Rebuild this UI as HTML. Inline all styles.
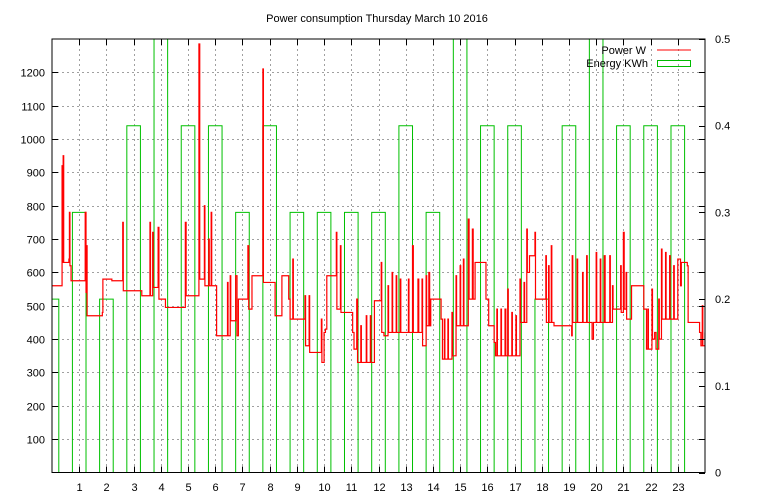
<!DOCTYPE html>
<html><head><meta charset="utf-8"><style>
body{margin:0;background:#fff;}
svg{display:block;font-family:"Liberation Sans",sans-serif;font-size:11px;}
</style></head><body>
<svg id="chart" width="768" height="500" viewBox="0 0 768 500">
<text x="377" y="22" text-anchor="middle">Power consumption Thursday March 10 2016</text>
<g id="grid"></g><g id="energy"></g><g id="power"></g><g id="axes"></g>
<g>
<text x="646" y="54" text-anchor="end">Power W</text>
<line x1="657" y1="50" x2="691" y2="50" stroke="#f00" stroke-width="1"/>
<text x="648" y="67" text-anchor="end">Energy KWh</text>
<rect x="657.5" y="60.5" width="33" height="6" fill="none" stroke="#0b0"/>
</g>
</svg>
<script>
const hourTicks=[1,2,3,4,5,6,7,8,9,10,11,12,13,14,15,16,17,18,19,20,21,22,23];
const wattTicks=[100,200,300,400,500,600,700,800,900,1000,1100,1200];
const kwhTicks=[0,0.1,0.2,0.3,0.4,0.5];
const energyHours=[0,1,2,3,4,5,6,7,8,9,10,11,12,13,14,15,16,17,18,19,20,21,22,23];
const energyKwh=[0.2,0.3,0.2,0.4,0.6,0.4,0.4,0.3,0.4,0.3,0.3,0.3,0.3,0.4,0.3,0.6,0.4,0.4,0.2,0.4,0.6,0.4,0.4,0.4];
const powerT=[0,0.37,0.39,0.41,0.43,0.62,0.64,0.66,0.7,1.22,1.25,1.27,1.29,1.85,1.87,2.2,2.6,2.62,3.3,3.6,3.62,3.7,3.72,3.9,3.93,4.17,4.9,4.93,5.4,5.43,5.6,5.62,5.76,5.78,5.85,5.87,6.05,6.45,6.47,6.55,6.57,6.75,6.8,6.85,7.2,7.23,7.35,7.75,7.77,8.2,8.45,8.7,8.75,8.85,8.87,9.3,9.32,9.45,9.47,9.9,9.92,10.0,10.05,10.1,10.45,10.47,10.6,10.62,11.05,11.1,11.2,11.23,11.35,11.37,11.55,11.57,11.7,11.72,11.85,12.1,12.12,12.2,12.35,12.37,12.5,12.52,12.65,12.67,12.8,12.82,13.1,13.12,13.25,13.28,13.45,13.48,13.6,13.62,13.75,13.77,13.85,13.88,13.92,14.3,14.35,14.42,14.44,14.55,14.57,14.7,14.72,14.85,14.87,15.0,15.02,15.12,15.14,15.3,15.33,15.45,15.48,15.55,15.95,16.05,16.25,16.3,16.35,16.37,16.5,16.52,16.65,16.68,16.75,16.77,16.9,16.92,17.05,17.07,17.2,17.22,17.35,17.37,17.45,17.47,17.55,17.75,17.77,18.15,18.17,18.25,18.27,18.35,18.37,18.45,19.1,19.12,19.14,19.3,19.32,19.5,19.52,19.65,19.67,19.85,19.9,20.0,20.02,20.15,20.17,20.3,20.33,20.5,20.52,20.6,20.62,20.9,20.92,21.0,21.03,21.1,21.12,21.3,21.75,21.85,21.9,21.92,22.05,22.07,22.15,22.2,22.3,22.32,22.4,22.42,22.55,22.57,22.7,22.72,22.85,22.87,23.0,23.1,23.13,23.35,23.38,23.8,23.85,23.9,23.92,24];
const powerW=[560,920,630,950,630,640,780,620,575,780,540,680,470,480,580,575,750,545,530,750,530,720,555,735,520,495,750,530,1285,580,800,560,700,560,780,560,410,570,410,590,455,590,410,520,680,490,590,1210,570,470,590,520,460,640,460,530,380,530,360,460,330,420,430,590,720,490,680,480,420,370,520,330,440,330,470,330,470,330,515,630,420,410,560,420,600,420,590,420,580,420,580,420,680,420,580,420,580,380,590,440,600,440,520,460,340,460,340,460,340,480,350,590,440,620,440,640,440,760,520,730,520,630,520,440,390,350,490,350,490,350,490,350,550,350,480,350,470,350,580,450,570,450,730,600,650,720,520,650,450,620,450,680,450,440,410,650,450,640,450,600,450,650,450,400,450,660,450,640,450,650,450,650,450,560,490,620,480,720,490,600,460,560,490,370,490,370,550,400,420,370,520,400,670,460,660,460,650,460,620,460,640,560,630,620,450,420,380,500,380,420];
const L=52,R=705,T=39,B=472.5;
const xs=t=>L+t*(R-L)/24;
const yw=w=>B-w*(B-T)/1300;
const yk=k=>B-k*(B-T)/0.5;
const NS='http://www.w3.org/2000/svg';
function mk(tag,attrs,parent){const e=document.createElementNS(NS,tag);for(const k in attrs)e.setAttribute(k,attrs[k]);parent.appendChild(e);return e;}
const grid=document.getElementById('grid'),axes=document.getElementById('axes'),eg=document.getElementById('energy'),pg=document.getElementById('power');
hourTicks.forEach(h=>{const x=Math.round(xs(h))+0.5;
 const g=mk('line',{x1:x,y1:T,x2:x,y2:B,stroke:'#a0a0a0','stroke-dasharray':'2,3'},grid);
 
 const tk=mk('path',{d:`M${x},${B} v-6 M${x},${T} v6`,stroke:'#000'},axes);
 
 const t=mk('text',{x:x,y:491,'text-anchor':'middle'},axes);t.textContent=h;
 });
wattTicks.forEach(w=>{const y=Math.round(yw(w))+0.5;
 const g=mk('line',{x1:L,y1:y,x2:R,y2:y,stroke:'#a0a0a0','stroke-dasharray':'2,3'},grid);
 
 const tk=mk('path',{d:`M${L},${y} h6 M${R},${y} h-6`,stroke:'#000'},axes);
 
 const t=mk('text',{x:45,y:y+4,'text-anchor':'end'},axes);t.textContent=w;
 });
kwhTicks.forEach(k=>{const y=yk(k);
 const tk=mk('path',{d:`M${R},${Math.round(y)+0.5} h-6`,stroke:'#000'},axes);
 
 const t=mk('text',{x:715,y:y+4},axes);t.textContent=k;
 });
energyHours.forEach((h,i)=>{let x1=Math.max(L,xs(h-0.25)),x2=xs(h+0.25);
 const y=Math.max(T-5,yk(energyKwh[i]));
 const r=mk('path',{d:`M${x1},${B} L${x1},${y} L${x2},${y} L${x2},${B}`,fill:'none',stroke:'#00c000','stroke-width':1},eg);
 });
let d=`M${xs(powerT[0])},${yw(powerW[0])}`;
for(let i=1;i<powerT.length;i++){d+=` L${xs(powerT[i])},${yw(powerW[i-1])} L${xs(powerT[i])},${yw(powerW[i])}`;}
const p=mk('path',{d:d,fill:'none',stroke:'#f00','stroke-width':1.2},pg);

const cp=mk('clipPath',{id:'cl'},document.getElementById('chart'));mk('rect',{x:L,y:T,width:R-L,height:B-T},cp);
eg.setAttribute('clip-path','url(#cl)');pg.setAttribute('clip-path','url(#cl)');
const f=mk('rect',{x:L,y:T,width:R-L,height:B-T,fill:'none',stroke:'#000'},axes);

</script>
</body></html>
